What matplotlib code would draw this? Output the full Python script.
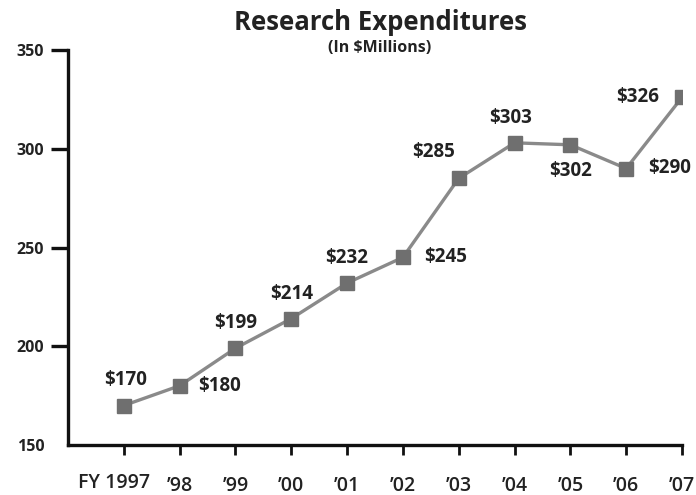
import matplotlib
matplotlib.use("Agg")
import matplotlib.pyplot as plt

years = ["FY 1997", "\u201998", "\u201999", "\u201900", "\u201901", "\u201902",
         "\u201903", "\u201904", "\u201905", "\u201906", "\u201907"]
values = [170, 180, 199, 214, 232, 245, 285, 303, 302, 290, 326]
labels = ["$170", "$180", "$199", "$214", "$232", "$245",
          "$285", "$303", "$302", "$290", "$326"]
# label placement: offset in points
offsets = [(1, 18), (29, 0), (0, 18), (0, 18), (0, 18), (31, 0),
           (-18, 19), (-3, 18), (0, -19), (31, 0), (-32, 0)]

plt.rcParams['font.family'] = ['Open Sans', 'DejaVu Sans']

fig = plt.figure(figsize=(6.96, 4.95), dpi=100)
ax = fig.add_axes([68/696, 50/495, 614/696, 395/495])

x = list(range(len(values)))
ax.plot(x, values, color="#8a8a8a", lw=2.4, marker="s", markersize=10.5,
        markerfacecolor="#6f6f6f", markeredgecolor="#6f6f6f", zorder=3)

for xi, v, lab, off in zip(x, values, labels, offsets):
    ax.annotate(lab, (xi, v), xytext=off, textcoords="offset points",
                ha="center", va="center", fontsize=13.5, fontweight="bold",
                color="#222222")

ax.set_xlim(-1, 10)
ax.set_ylim(150, 350)
ax.set_xticks(x)
tick_font = dict(fontsize=14, fontweight="semibold", color="#222222")
# first label is drawn separately, a little left of its tick as in the original
ax.set_xticklabels([""] + years[1:], **tick_font)
ax.annotate(years[0], xy=(x[0], 0), xycoords=("data", "axes fraction"),
            xytext=(-7, -27.5), textcoords="offset points",
            ha="center", va="center", **tick_font)
ax.set_yticks([150, 200, 250, 300, 350])
ax.set_yticklabels(["150", "200", "250", "300", "350"], fontsize=11.5,
                   fontweight="bold", color="#222222")
ax.yaxis.get_major_ticks()[0].tick1line.set_visible(False)

for s in ["top", "right"]:
    ax.spines[s].set_visible(False)
for s in ["left", "bottom"]:
    ax.spines[s].set_linewidth(2.4)
    ax.spines[s].set_color("#111111")

ax.tick_params(axis="y", length=12, width=2.4, color="#111111", pad=5)
ax.tick_params(axis="x", length=7, width=2, color="#111111", pad=15)

fig.text(380/696, 1 - 22/495, "Research Expenditures", ha="center", va="center",
         fontsize=18.5, fontweight="bold", color="#222222")
fig.text(380/696, 1 - 48/495, "(In $Millions)", ha="center", va="center",
         fontsize=11.5, fontweight="bold", color="#222222")

fig.savefig("out.png", dpi=100)
